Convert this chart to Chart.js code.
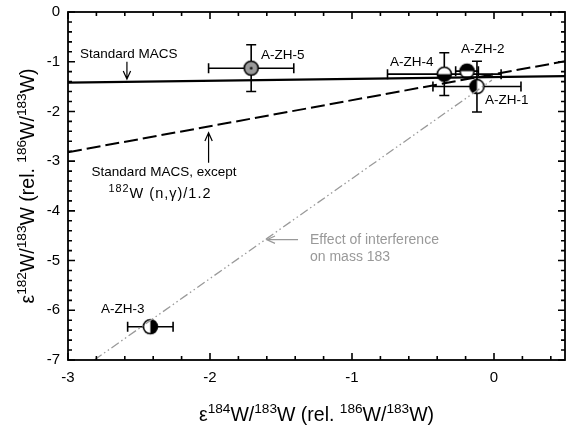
<!DOCTYPE html>
<html>
<head>
<meta charset="utf-8">
<script src="https://cdn.jsdelivr.net/npm/chart.js@4.4.1/dist/chart.umd.min.js"></script>
<style>
  html, body { margin: 0; padding: 0; background: #fff; }
  #wrap { width: 566px; height: 427px; position: relative; }
</style>
</head>
<body>
<div id="wrap"><canvas id="grafico"></canvas></div>
<script>
// sample data (epsilon 184W/183W, epsilon 182W/183W, 2-sigma errors)
const sampleNames = ['A-ZH-1', 'A-ZH-2', 'A-ZH-3', 'A-ZH-4', 'A-ZH-5'];
const eps184 = [-0.12, -0.19, -2.42, -0.35, -1.71];
const eps182 = [-1.50, -1.19, -6.33, -1.25, -1.13];
const err184 = [0.31, 0.08, 0.16, 0.40, 0.30];
const err182 = [0.51, 0.10, 0.10, 0.43, 0.47];

// model lines
const macsX = [-3, 0.5];
const macsY = [-1.42, -1.29];
const macsModX = [-3, 0.5];
const macsModY = [-2.82, -0.99];
const interfX = [-2.815, -0.015];
const interfY = [-7, -1.37];

// axes
const xTicks = [-3, -2, -1, 0];
const yTicks = [0, -1, -2, -3, -4, -5, -6, -7];

const FONT = '"Liberation Sans", Arial, Helvetica, sans-serif';
const markerKind = ['left', 'top', 'right', 'bottom', 'gray'];

function makeMarker(kind) {
    const c = document.createElement('canvas');
    c.width = 19; c.height = 19;
    const g = c.getContext('2d');
    const cx = 9.5, cy = 9.5, r = 7;
    g.beginPath(); g.arc(cx, cy, r, 0, Math.PI * 2);
    g.fillStyle = kind === 'gray' ? '#9a9a9a' : '#fff';
    g.fill();
    const halves = { left: [Math.PI / 2, Math.PI * 1.5], right: [-Math.PI / 2, Math.PI / 2],
                     top: [Math.PI, Math.PI * 2], bottom: [0, Math.PI] };
    if (halves[kind]) {
        g.beginPath(); g.arc(cx, cy, r, halves[kind][0], halves[kind][1]); g.closePath();
        g.fillStyle = '#000'; g.fill();
    }
    if (kind === 'gray') {
        g.beginPath(); g.arc(cx, cy, 1.3, 0, Math.PI * 2); g.fillStyle = '#000'; g.fill();
    }
    g.beginPath(); g.arc(cx, cy, r, 0, Math.PI * 2);
    g.lineWidth = 1.6; g.strokeStyle = '#000'; g.stroke();
    return c;
}

function toPts(xs, ys) { return xs.map((x, i) => ({ x: x, y: ys[i] })); }

// text with superscripts: parts = [[text, isSup], ...]
function richWidth(ctx, parts, size, ratio) {
    let w = 0;
    parts.forEach(p => {
        ctx.font = (p[1] ? size * ratio : size) + 'px ' + FONT;
        w += ctx.measureText(p[0]).width;
    });
    return w;
}
function drawRich(ctx, parts, x, y, size, ratio) {
    ratio = ratio || 0.68;
    let cx = x - richWidth(ctx, parts, size, ratio) / 2;
    ctx.textAlign = 'left';
    ctx.textBaseline = 'alphabetic';
    parts.forEach(p => {
        ctx.font = (p[1] ? size * ratio : size) + 'px ' + FONT;
        ctx.fillText(p[0], cx, p[1] ? y - size * 0.42 : y);
        cx += ctx.measureText(p[0]).width;
    });
}

function arrow(ctx, x1, y1, x2, y2, color) {
    const a = Math.atan2(y2 - y1, x2 - x1), h = 9, s = 0.42;
    ctx.strokeStyle = color; ctx.lineWidth = 1.2;
    ctx.beginPath(); ctx.moveTo(x1, y1); ctx.lineTo(x2, y2);
    ctx.moveTo(x2 - h * Math.cos(a - s), y2 - h * Math.sin(a - s));
    ctx.lineTo(x2, y2);
    ctx.lineTo(x2 - h * Math.cos(a + s), y2 - h * Math.sin(a + s));
    ctx.stroke();
}

const errorBars = {
    id: 'errorBars',
    beforeDatasetsDraw(chart) {
        const ctx = chart.ctx, xs = chart.scales.x, ys = chart.scales.y, cap = 5;
        ctx.save();
        ctx.strokeStyle = '#000'; ctx.lineWidth = 1.6;
        sampleNames.forEach((n, i) => {
            const px = xs.getPixelForValue(eps184[i]), py = ys.getPixelForValue(eps182[i]);
            const x0 = xs.getPixelForValue(eps184[i] - err184[i]), x1 = xs.getPixelForValue(eps184[i] + err184[i]);
            const y0 = ys.getPixelForValue(eps182[i] - err182[i]), y1 = ys.getPixelForValue(eps182[i] + err182[i]);
            ctx.beginPath();
            ctx.moveTo(x0, py); ctx.lineTo(x1, py);
            ctx.moveTo(x0, py - cap); ctx.lineTo(x0, py + cap);
            ctx.moveTo(x1, py - cap); ctx.lineTo(x1, py + cap);
            ctx.moveTo(px, y0); ctx.lineTo(px, y1);
            ctx.moveTo(px - cap, y0); ctx.lineTo(px + cap, y0);
            ctx.moveTo(px - cap, y1); ctx.lineTo(px + cap, y1);
            ctx.stroke();
        });
        ctx.restore();
    }
};

const decor = {
    id: 'decor',
    afterDraw(chart) {
        const ctx = chart.ctx, xs = chart.scales.x, ys = chart.scales.y;
        const area = chart.chartArea;
        const X = v => xs.getPixelForValue(v), Y = v => ys.getPixelForValue(v);
        ctx.save();
        // frame
        ctx.strokeStyle = '#000';
        ctx.lineWidth = 1.8;
        ctx.strokeRect(area.left, area.top, area.right - area.left, area.bottom - area.top);
        // inward ticks on all four sides (major every 1, minor every 0.2)
        ctx.lineWidth = 1.6;
        ctx.beginPath();
        for (let k = -15; k <= 2; k++) {
            const px = X(k / 5);
            const len = (k % 5 === 0) ? 7 : 4;
            ctx.moveTo(px, area.bottom); ctx.lineTo(px, area.bottom - len);
            ctx.moveTo(px, area.top); ctx.lineTo(px, area.top + len);
        }
        for (let k = -35; k <= 0; k++) {
            const py = Y(k / 5);
            const len = (k % 5 === 0) ? 7 : 4;
            ctx.moveTo(area.left, py); ctx.lineTo(area.left + len, py);
            ctx.moveTo(area.right, py); ctx.lineTo(area.right - len, py);
        }
        ctx.stroke();

        // axis titles
        ctx.fillStyle = '#000';
        const xt = [['\u03b5', 0], ['184', 1], ['W/', 0], ['183', 1], ['W (rel. ', 0], ['186', 1], ['W/', 0], ['183', 1], ['W)', 0]];
        drawRich(ctx, xt, (area.left + area.right) / 2, 421, 19.5, 0.7);
        const yt = [['\u03b5', 0], ['182', 1], ['W/', 0], ['183', 1], ['W (rel. ', 0], ['186', 1], ['W/', 0], ['183', 1], ['W)', 0]];
        ctx.save();
        ctx.translate(34, (area.top + area.bottom) / 2);
        ctx.rotate(-Math.PI / 2);
        drawRich(ctx, yt, 0, 0, 19.5, 0.7);
        ctx.restore();

        // sample labels
        ctx.font = '13.5px ' + FONT;
        ctx.textBaseline = 'middle'; ctx.textAlign = 'left';
        const labelPos = [[485, 100], [461, 49], [101, 309], [390, 62], [261, 55]];
        sampleNames.forEach((n, i) => ctx.fillText(n, labelPos[i][0], labelPos[i][1]));

        // annotations
        ctx.fillText('Standard MACS', 80, 54);
        arrow(ctx, X(-2.585), Y(-1.0), X(-2.585), Y(-1.35), '#000');
        ctx.textAlign = 'center';
        ctx.fillText('Standard MACS, except', 164, 172);
        ctx.letterSpacing = '1px';
        drawRich(ctx, [['182', 1], ['W (n,\u03b3)/1.2', 0]], 160, 198, 14.5, 0.75);
        ctx.letterSpacing = '0px';
        arrow(ctx, X(-2.01), Y(-3.03), X(-2.01), Y(-2.43), '#000');

        ctx.fillStyle = '#999';
        ctx.font = '14px ' + FONT;
        ctx.textAlign = 'left'; ctx.textBaseline = 'middle';
        ctx.fillText('Effect of interference', 310, 240);
        ctx.fillText('on mass 183', 310, 257);
        arrow(ctx, X(-1.38), Y(-4.58), X(-1.60), Y(-4.58), '#999');
        ctx.restore();
    }
};

function fixBox(size, prop) {
    return function (s) {
        s[prop] = size;
        s.paddingTop = 0; s.paddingBottom = 0; s.paddingLeft = 0; s.paddingRight = 0;
    };
}

new Chart(document.getElementById('grafico'), {
    type: 'scatter',
    data: {
        datasets: [
            { data: toPts(macsX, macsY), showLine: true, borderColor: '#000', borderWidth: 2.2, pointRadius: 0 },
            { data: toPts(macsModX, macsModY), showLine: true, borderColor: '#000', borderWidth: 2, borderDash: [14, 5], pointRadius: 0 },
            { data: toPts(interfX, interfY), showLine: true, borderColor: '#9a9a9a', borderWidth: 1.3, borderDash: [9, 3, 1.5, 3, 1.5, 3], pointRadius: 0 },
            { data: toPts(eps184, eps182), showLine: false, pointStyle: markerKind.map(makeMarker) }
        ]
    },
    options: {
        responsive: true,
        maintainAspectRatio: false,
        animation: false,
        events: [],
        layout: { autoPadding: false, padding: { top: 12, right: 1, left: 0, bottom: 0 } },
        plugins: { legend: { display: false }, tooltip: { enabled: false } },
        scales: {
            x: {
                type: 'linear', min: -3, max: 0.5,
                grid: { display: false, drawTicks: false }, border: { display: false },
                afterFit: fixBox(67, 'height'),
                afterBuildTicks(s) { s.ticks = xTicks.map(v => ({ value: v })); },
                ticks: { padding: 9, color: '#000', font: { family: FONT, size: 15 } }
            },
            y: {
                type: 'linear', min: -7, max: 0,
                grid: { display: false, drawTicks: false }, border: { display: false },
                afterFit: fixBox(68, 'width'),
                afterBuildTicks(s) { s.ticks = yTicks.map(v => ({ value: v })); },
                ticks: { padding: 8, color: '#000', font: { family: FONT, size: 15 } }
            }
        }
    },
    plugins: [errorBars, decor]
});
</script>
</body>
</html>
